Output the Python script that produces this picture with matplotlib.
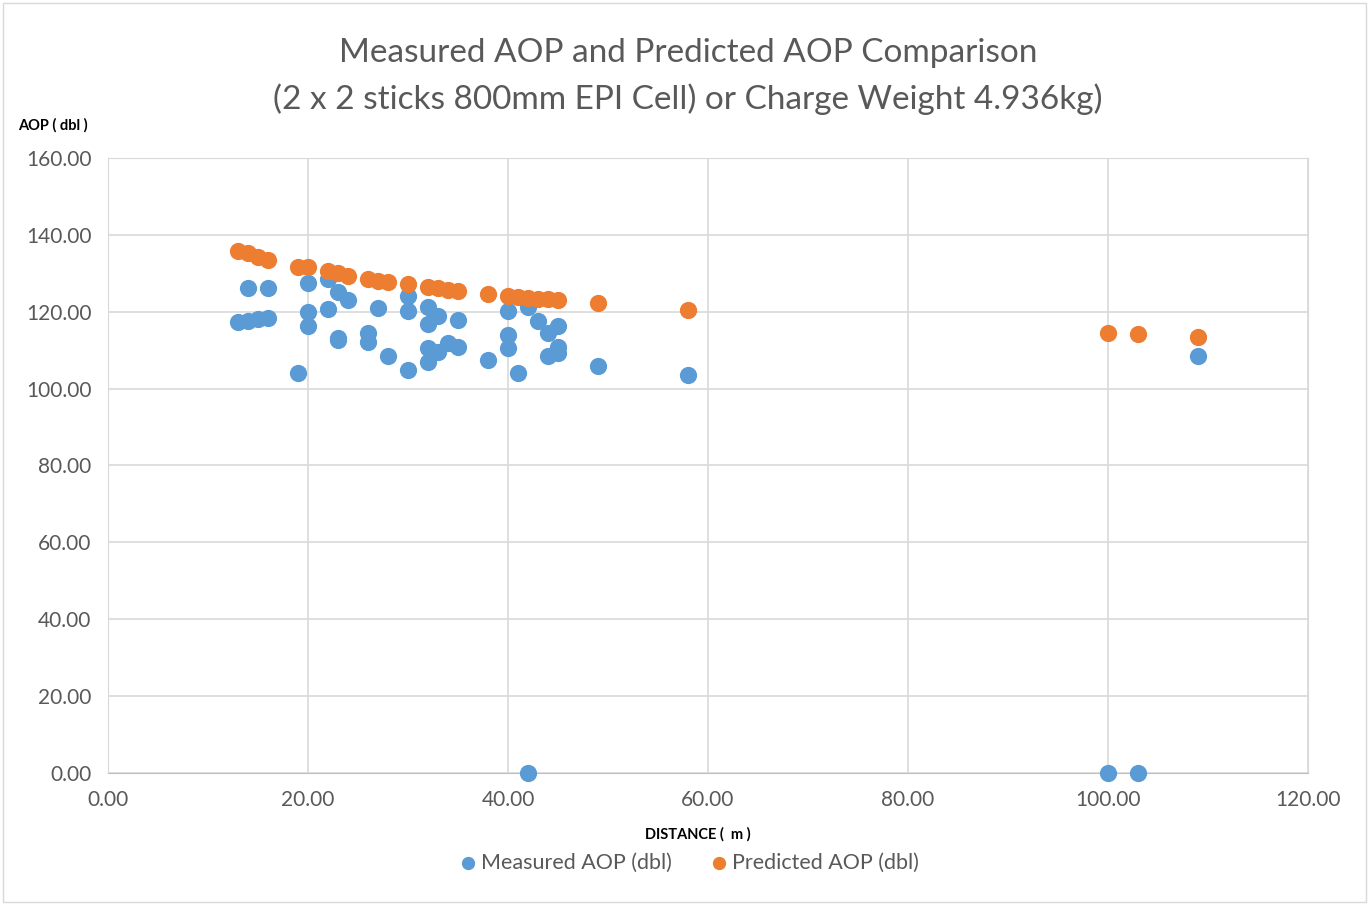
# coding: utf-8
# Measured vs predicted AOP scatter

import matplotlib.pyplot as plt
from matplotlib.patches import Rectangle

# measured AOP (dbl)
measured_dist = [13, 14, 15, 16, 14, 16, 19, 20, 20, 20, 22, 22, 23, 24, 23, 23,
                 26, 26, 27, 28, 30, 30, 30, 32, 32, 32, 32, 33, 33, 34, 35, 35,
                 38, 40, 40, 40, 41, 42, 43, 44, 44, 45, 45, 45, 49, 58, 42, 100,
                 103, 109]
measured_aop = [117.3, 117.6, 118.1, 118.4, 126.2, 126.2, 104.1, 127.5, 119.9, 116.3,
                128.5, 120.7, 125.1, 123.0, 113.2, 112.7, 114.5, 112.2, 121.0, 108.5,
                124.1, 120.2, 104.8, 121.2, 116.8, 110.6, 106.9, 118.9, 109.5, 111.9,
                117.8, 110.8, 107.4, 120.2, 113.9, 110.6, 104.1, 121.2, 117.6, 114.5,
                108.5, 116.3, 110.8, 109.3, 105.9, 103.5, 0.0, 0.0, 0.0, 108.5]

# predicted AOP (dbl)
predicted_dist = [13, 14, 15, 16, 19, 20, 22, 23, 24, 26, 27, 28, 30, 32, 33, 34, 35,
                  38, 40, 41, 42, 43, 44, 45, 49, 58, 100, 103, 109]
predicted_aop = [135.8, 135.3, 134.2, 133.5, 131.6, 131.6, 130.6, 130.1, 129.3, 128.5,
                 128.0, 127.7, 127.2, 126.4, 126.2, 125.6, 125.4, 124.6, 124.1, 123.8,
                 123.6, 123.3, 123.3, 123.0, 122.3, 120.4, 114.5, 114.2, 113.4]

plt.rcParams['font.family'] = ['Lato', 'DejaVu Sans']
grey = '#595959'

fig = plt.figure(figsize=(13.69, 9.05), dpi=100)
ax = fig.add_axes([0.0789, 0.1459, 0.8765, 0.6795])

ax.scatter(measured_dist, measured_aop, s=130, color='#5b9bd5', label='Measured AOP (dbl)',
           zorder=3, clip_on=False)
ax.scatter(predicted_dist, predicted_aop, s=130, color='#ed7d31', label='Predicted AOP (dbl)',
           zorder=3, clip_on=False)

ax.set_xlim(0, 120)
ax.set_ylim(0, 160)
ax.set_xticks(range(0, 121, 20))
ax.set_yticks(range(0, 161, 20))
ax.set_xticklabels(['%.2f' % v for v in range(0, 121, 20)])
ax.set_yticklabels(['%.2f' % v for v in range(0, 161, 20)])
ax.tick_params(length=0, labelsize=15, labelcolor=grey, pad=12)
ax.grid(color='#d9d9d9', linewidth=1.2)
ax.set_axisbelow(True)
for side in ['top', 'right', 'left']:
    ax.spines[side].set_color('#d9d9d9')
ax.spines['bottom'].set_color('#bfbfbf')

fig.text(0.5025, 0.915, 'Measured AOP and Predicted AOP Comparison\n(2 x 2 sticks 800mm EPI Cell) or Charge Weight 4.936kg)',
         ha='center', va='center', fontsize=24, color=grey, linespacing=1.6)
fig.text(0.013, 0.862, 'AOP ( dbl )', fontsize=10.5, fontweight='bold', color='black', va='center')
fig.text(0.51, 0.078, 'DISTANCE (  m )', fontsize=10.5, fontweight='bold', color='black', ha='center', va='center')

ax.legend(loc='center', bbox_to_anchor=(0.484, -0.146), ncol=2, frameon=False, fontsize=15.5,
          labelcolor=grey, handlelength=0.8, handletextpad=0.2, columnspacing=1.8, markerscale=0.75)

fig.patches.append(Rectangle((0.002, 0.003), 0.996, 0.994, transform=fig.transFigure,
                             fill=False, edgecolor='#d9d9d9', linewidth=1))

fig.savefig('out.png', dpi=100)
